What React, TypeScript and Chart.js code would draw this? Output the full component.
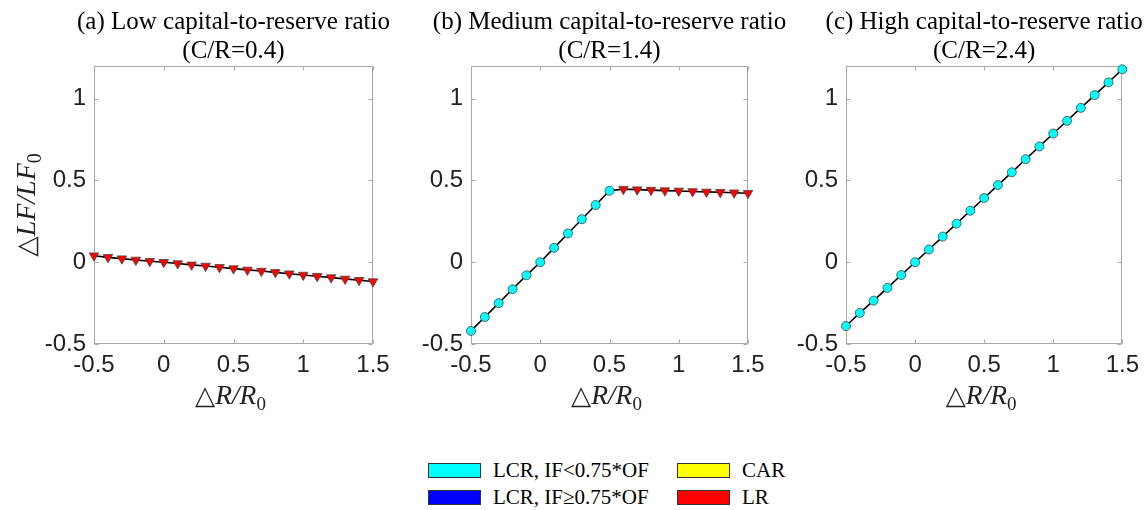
import React, { useEffect, useRef } from 'react';
import { Chart, registerables } from 'chart.js';

Chart.register(...registerables);

// ---------- data ----------
const xValues = [-0.5, -0.4, -0.3, -0.2, -0.1, 0, 0.1, 0.2, 0.3, 0.4, 0.5, 0.6, 0.7, 0.8, 0.9, 1.0, 1.1, 1.2, 1.3, 1.4, 1.5];
const xTicks = [-0.5, 0, 0.5, 1, 1.5];
const yTicks = [-0.5, 0, 0.5, 1];

const lowY = [0.04, 0.03, 0.022, 0.014, 0.006, 0, -0.008, -0.016, -0.023, -0.031, -0.039, -0.047, -0.054, -0.062, -0.07, -0.078, -0.086, -0.094, -0.102, -0.11, -0.118];
const lowRegime = ['LR', 'LR', 'LR', 'LR', 'LR', 'LR', 'LR', 'LR', 'LR', 'LR', 'LR', 'LR', 'LR', 'LR', 'LR', 'LR', 'LR', 'LR', 'LR', 'LR', 'LR'];

const medY = [-0.42, -0.335, -0.25, -0.165, -0.08, 0, 0.088, 0.176, 0.263, 0.35, 0.437, 0.447, 0.444, 0.441, 0.438, 0.436, 0.433, 0.43, 0.428, 0.425, 0.422];
const medRegime = ['LCR', 'LCR', 'LCR', 'LCR', 'LCR', 'LCR', 'LCR', 'LCR', 'LCR', 'LCR', 'LCR', 'LR', 'LR', 'LR', 'LR', 'LR', 'LR', 'LR', 'LR', 'LR', 'LR'];

const highY = [-0.39, -0.31, -0.235, -0.157, -0.078, 0, 0.078, 0.157, 0.236, 0.315, 0.393, 0.472, 0.55, 0.63, 0.708, 0.787, 0.865, 0.944, 1.022, 1.1, 1.18];
const highRegime = ['LCR', 'LCR', 'LCR', 'LCR', 'LCR', 'LCR', 'LCR', 'LCR', 'LCR', 'LCR', 'LCR', 'LCR', 'LCR', 'LCR', 'LCR', 'LCR', 'LCR', 'LCR', 'LCR', 'LCR', 'LCR'];

const titleA = ['(a) Low capital-to-reserve ratio', '(C/R=0.4)'];
const titleB = ['(b) Medium capital-to-reserve ratio', '(C/R=1.4)'];
const titleC = ['(c) High capital-to-reserve ratio', '(C/R=2.4)'];

const legendKeys = ['LCR', 'LCR2', 'CAR', 'LR'];
const legendLabels = ['LCR, IF<0.75*OF', 'LCR, IF\u22650.75*OF', 'CAR', 'LR'];
const regimeColors: Record<string, string> = { LCR: '#00FFFF', LCR2: '#0000FF', CAR: '#FFFF00', LR: '#FF0000' };

// ---------- layout constants ----------
const CANVAS_H = 420;
const PLOT_TOP = 66;
const PLOT_BOTTOM = 344;

const SERIF = '"Liberation Serif", "Times New Roman", serif';
const SANS = '"Liberation Sans", Arial, sans-serif';

type Seg = { t: string; font: string; dy?: number };

function drawSegs(ctx: CanvasRenderingContext2D, segs: Seg[], cx: number, baseline: number) {
  let total = 0;
  const widths = segs.map((s) => {
    ctx.font = s.font;
    const w = ctx.measureText(s.t).width;
    total += w;
    return w;
  });
  let x = cx - total / 2;
  ctx.textBaseline = 'alphabetic';
  ctx.textAlign = 'left';
  segs.forEach((s, i) => {
    ctx.font = s.font;
    ctx.fillText(s.t, x, baseline + (s.dy || 0));
    x += widths[i];
  });
}

function mathSegs(main: string, size: number): Seg[] {
  return [
    { t: '\u25B3', font: `${size * 0.95}px "DejaVu Serif", ${SERIF}` },
    { t: main, font: `italic ${size}px ${SERIF}` },
    { t: '0', font: `${Math.round(size * 0.7)}px ${SERIF}`, dy: size * 0.22 },
  ];
}

const framePlugin = {
  id: 'frameAndTitles',
  beforeDatasetsDraw(chart: any) {
    const { ctx, chartArea: a, scales } = chart;
    const l = Math.round(a.left) + 0.5;
    const r = Math.round(a.right) - 0.5;
    const t = Math.round(a.top) + 0.5;
    const b = Math.round(a.bottom) - 0.5;
    ctx.save();
    ctx.strokeStyle = '#a9a9a9';
    ctx.lineWidth = 1;
    ctx.strokeRect(l, t, r - l, b - t);
    const tl = 4;
    ctx.beginPath();
    xTicks.forEach((v) => {
      const px = Math.round(scales.x.getPixelForValue(v)) + 0.5;
      ctx.moveTo(px, b);
      ctx.lineTo(px, b - tl);
      ctx.moveTo(px, t);
      ctx.lineTo(px, t + tl);
    });
    yTicks.forEach((v) => {
      const py = Math.round(scales.y.getPixelForValue(v)) + 0.5;
      ctx.moveTo(l, py);
      ctx.lineTo(l + tl, py);
      ctx.moveTo(r, py);
      ctx.lineTo(r - tl, py);
    });
    ctx.stroke();
    ctx.restore();
  },
  afterDraw(chart: any, _args: any, opts: any) {
    const { ctx, chartArea: a } = chart;
    const cx = (a.left + a.right) / 2;
    ctx.save();
    // panel title (two lines), centred over the plot
    ctx.fillStyle = '#000';
    ctx.font = `25px ${SERIF}`;
    ctx.textAlign = 'center';
    ctx.textBaseline = 'middle';
    (opts.title as string[]).forEach((line, i) => {
      ctx.fillText(line, cx, 22 + i * 29);
    });
    // axis titles
    ctx.fillStyle = '#222';
    drawSegs(ctx, mathSegs('R/R', 27.5), cx - 3, 404);
    if (opts.showYTitle) {
      ctx.translate(35, (a.top + a.bottom) / 2);
      ctx.rotate(-Math.PI / 2);
      drawSegs(ctx, mathSegs('LF/LF', 28), 0, 0);
    }
    ctx.restore();
  },
};

type PanelProps = {
  left: number;
  width: number;
  plotLeft: number;
  plotRight: number;
  yValues: number[];
  regimes: string[];
  title: string[];
  showYTitle: boolean;
};

function Panel({ left, width, plotLeft, plotRight, yValues, regimes, title, showYTitle }: PanelProps) {
  const ref = useRef<HTMLCanvasElement | null>(null);

  useEffect(() => {
    if (!ref.current) return;
    const points = xValues.map((x, i) => ({ x, y: yValues[i] }));
    const markerSets = legendKeys
      .filter((k) => regimes.includes(k))
      .map((k) => ({
        label: k,
        data: points.filter((_, i) => regimes[i] === k),
        showLine: false,
        pointStyle: k === 'LR' ? 'triangle' : 'circle',
        pointRotation: k === 'LR' ? 180 : 0,
        pointRadius: k === 'LR' ? 5.5 : 4.5,
        pointBackgroundColor: regimeColors[k],
        pointBorderColor: '#444',
        pointBorderWidth: 0.8,
        order: 0,
        clip: false as any,
      }));
    const chart = new Chart(ref.current, {
      type: 'scatter',
      data: {
        datasets: [
          ...markerSets,
          {
            label: 'line',
            data: points,
            showLine: true,
            borderColor: '#000',
            borderWidth: 1.6,
            pointRadius: 0,
            order: 1,
            clip: false as any,
          },
        ] as any,
      },
      options: {
        responsive: false,
        animation: false,
        layout: { padding: { left: 0, right: width - plotRight, top: PLOT_TOP, bottom: 0 } },
        plugins: {
          legend: { display: false },
          tooltip: { enabled: false },
          title: { display: false },
          frameAndTitles: { showYTitle, title },
        } as any,
        scales: {
          x: {
            type: 'linear',
            min: -0.5,
            max: 1.5,
            grid: { display: false, drawTicks: false },
            border: { display: false },
            afterBuildTicks: (s: any) => {
              s.ticks = xTicks.map((v) => ({ value: v }));
            },
            afterFit: (s: any) => {
              s.height = CANVAS_H - PLOT_BOTTOM;
            },
            ticks: {
              autoSkip: false,
              maxRotation: 0,
              padding: 7,
              color: '#222',
              font: { family: SANS, size: 24 },
              callback: (v: any) => String(v),
            },
          },
          y: {
            type: 'linear',
            min: -0.5,
            max: 1.2,
            grid: { display: false, drawTicks: false },
            border: { display: false },
            afterBuildTicks: (s: any) => {
              s.ticks = yTicks.map((v) => ({ value: v }));
            },
            afterFit: (s: any) => {
              s.width = plotLeft;
            },
            ticks: {
              autoSkip: false,
              padding: 8,
              color: '#222',
              font: { family: SANS, size: 24 },
              callback: (v: any) => String(v),
            },
          },
        },
      } as any,
      plugins: [framePlugin as any],
    });
    return () => chart.destroy();
  }, []);

  return (
    <canvas
      ref={ref}
      width={width}
      height={CANVAS_H}
      style={{ position: 'absolute', left, top: 0, width, height: CANVAS_H }}
    />
  );
}

function Legend() {
  const cells = [
    { key: 'LCR', label: legendLabels[0], left: 428, top: 463 },
    { key: 'LCR2', label: legendLabels[1], left: 428, top: 490 },
    { key: 'CAR', label: legendLabels[2], left: 677, top: 463 },
    { key: 'LR', label: legendLabels[3], left: 677, top: 490 },
  ];
  return (
    <>
      {cells.map((c) => (
        <div
          key={c.key}
          style={{
            position: 'absolute',
            left: c.left,
            top: c.top - 5,
            height: 25,
            display: 'flex',
            alignItems: 'center',
            fontFamily: SERIF,
            fontSize: 21,
            color: '#000',
            whiteSpace: 'nowrap',
          }}
        >
          <span
            style={{
              display: 'inline-block',
              width: 51,
              height: 13,
              background: regimeColors[c.key],
              border: '1px solid #333',
              marginRight: 12,
            }}
          />
          <span>{c.label}</span>
        </div>
      ))}
    </>
  );
}

export default function App() {
  return (
    <div
      style={{
        position: 'fixed',
        left: 0,
        top: 0,
        width: 1146,
        height: 510,
        background: '#fff',
        overflow: 'hidden',
      }}
    >
      <Panel left={0} width={398} plotLeft={94} plotRight={373} yValues={lowY} regimes={lowRegime} title={titleA} showYTitle={true} />
      <Panel left={400} width={410} plotLeft={71} plotRight={348} yValues={medY} regimes={medRegime} title={titleB} showYTitle={false} />
      <Panel left={775} width={371} plotLeft={71} plotRight={348} yValues={highY} regimes={highRegime} title={titleC} showYTitle={false} />
      <Legend />
    </div>
  );
}
